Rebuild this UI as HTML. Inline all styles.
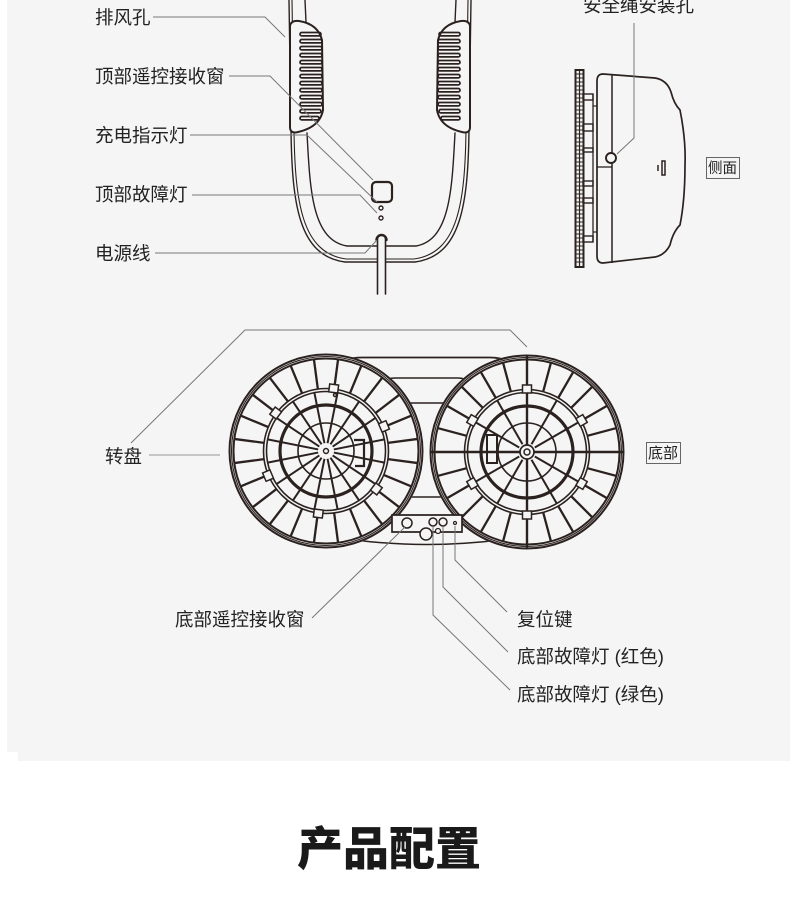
<!DOCTYPE html>
<html><head><meta charset="utf-8"><style>
html,body{margin:0;padding:0;background:#fff;}
svg{display:block;}
text{font-family:"Liberation Sans","Noto Sans CJK SC",sans-serif;fill:#222;}
</style></head><body>
<svg width="790" height="900" viewBox="0 0 790 900" xmlns="http://www.w3.org/2000/svg">
<rect x="7" y="0" width="783" height="752" fill="#f5f5f5"/>
<rect x="18" y="752" width="772" height="9" fill="#f5f5f5"/>

<!-- ===== TOP FRONT VIEW ===== -->
<g fill="none" stroke="#2b2220" stroke-linecap="round">
  <path d="M289,0 L291,130 C292,205 299,256 345,262 L415,262 C461,256 468,205 469,130 L471,0" stroke-width="1.4"/>
  <path d="M292,0 L294,130 C295,203 302,253 346,259 L414,259 C458,253 465,203 466,130 L468,0" stroke-width="1.1"/>
  <path d="M305,0 L306,22" stroke-width="1.4"/>
  <path d="M456,0 L455,22" stroke-width="1.4"/>
  <path d="M307,133 C310,190 312,240 347,246 L416,246 C450,240 452,190 455,133" stroke-width="1.4"/>
  <path d="M290,26 Q291,20 299,21 Q318,24 322,40 L323,110 Q320,127 298,132 Q290,134 290,127 Z" stroke-width="2" fill="#f5f5f5"/>
  <g stroke-width="1.7">
    <rect x="300" y="32.5" width="21" height="3.4" rx="1.7"/>
    <rect x="300" y="39.5" width="22" height="3.4" rx="1.7"/>
    <rect x="300" y="46.5" width="22" height="3.4" rx="1.7"/>
    <rect x="300" y="53.5" width="22" height="3.4" rx="1.7"/>
    <rect x="300" y="60.5" width="22" height="3.4" rx="1.7"/>
    <rect x="300" y="67.5" width="22" height="3.4" rx="1.7"/>
    <rect x="300" y="74.5" width="22" height="3.4" rx="1.7"/>
    <rect x="300" y="81.5" width="22" height="3.4" rx="1.7"/>
    <rect x="300" y="88.5" width="22" height="3.4" rx="1.7"/>
    <rect x="300" y="95.5" width="22" height="3.4" rx="1.7"/>
    <rect x="300" y="102.5" width="22" height="3.4" rx="1.7"/>
    <rect x="300" y="109.5" width="21" height="3.4" rx="1.7"/>
    <rect x="300" y="116.5" width="19" height="3.4" rx="1.7"/>
  </g>
  <g transform="translate(760 0) scale(-1 1)">
    <path d="M290,26 Q291,20 299,21 Q318,24 322,40 L323,110 Q320,127 298,132 Q290,134 290,127 Z" stroke-width="2" fill="#f5f5f5"/>
    <g stroke-width="1.7">
      <rect x="300" y="32.5" width="21" height="3.4" rx="1.7"/>
      <rect x="300" y="39.5" width="22" height="3.4" rx="1.7"/>
      <rect x="300" y="46.5" width="22" height="3.4" rx="1.7"/>
      <rect x="300" y="53.5" width="22" height="3.4" rx="1.7"/>
      <rect x="300" y="60.5" width="22" height="3.4" rx="1.7"/>
      <rect x="300" y="67.5" width="22" height="3.4" rx="1.7"/>
      <rect x="300" y="74.5" width="22" height="3.4" rx="1.7"/>
      <rect x="300" y="81.5" width="22" height="3.4" rx="1.7"/>
      <rect x="300" y="88.5" width="22" height="3.4" rx="1.7"/>
      <rect x="300" y="95.5" width="22" height="3.4" rx="1.7"/>
      <rect x="300" y="102.5" width="22" height="3.4" rx="1.7"/>
      <rect x="300" y="109.5" width="21" height="3.4" rx="1.7"/>
      <rect x="300" y="116.5" width="19" height="3.4" rx="1.7"/>
    </g>
  </g>
  <rect x="372" y="182" width="20" height="20" rx="4" stroke-width="2.2"/>
  <circle cx="381" cy="208" r="2" stroke-width="1.4"/>
  <circle cx="381" cy="218" r="2" stroke-width="1.4"/>
  <path d="M377.5,294 L377.5,239 A4,4 0 0 1 385.5,239 L385.5,294" stroke-width="1.6" fill="#f5f5f5"/>
  <path d="M376.5,240 A5,5 0 0 1 386.5,240" stroke-width="2.4"/>
</g>
<g fill="none" stroke="#777" stroke-width="1">
  <path d="M153,17 L265,17 L285,37"/>
  <path d="M229,76 L270,76 L373,180"/>
  <path d="M190,135 L307,135 L377,202"/>
  <path d="M192,195 L360,195 L377,213"/>
  <path d="M155,253 L365,253 L377,240"/>
</g>
<g font-size="18.5">
  <text x="95" y="24">排风孔</text>
  <text x="95" y="83">顶部遥控接收窗</text>
  <text x="95" y="142">充电指示灯</text>
  <text x="95" y="201">顶部故障灯</text>
  <text x="95" y="260">电源线</text>
  <text x="583" y="12">安全绳安装孔</text>
</g>

<!-- ===== SIDE VIEW ===== -->
<g fill="none" stroke="#2b2220">
  <rect x="575.5" y="70" width="8" height="197" stroke-width="2"/>
  <line x1="579.5" y1="71" x2="579.5" y2="266" stroke-width="1.2"/>
  <path d="M575,74 h8 M575,78 h8 M575,82 h8 M575,86 h8 M575,90 h8 M575,94 h8 M575,98 h8 M575,102 h8 M575,106 h8 M575,110 h8 M575,114 h8 M575,118 h8 M575,122 h8 M575,126 h8 M575,130 h8 M575,134 h8 M575,138 h8 M575,142 h8 M575,146 h8 M575,150 h8 M575,154 h8 M575,158 h8 M575,162 h8 M575,166 h8 M575,170 h8 M575,174 h8 M575,178 h8 M575,182 h8 M575,186 h8 M575,190 h8 M575,194 h8 M575,198 h8 M575,202 h8 M575,206 h8 M575,210 h8 M575,214 h8 M575,218 h8 M575,222 h8 M575,226 h8 M575,230 h8 M575,234 h8 M575,238 h8 M575,242 h8 M575,246 h8 M575,250 h8 M575,254 h8 M575,258 h8 M575,262 h8" stroke-width="1.1"/>
  <line x1="593" y1="94" x2="593" y2="242" stroke-width="1.3"/>
  <rect x="583" y="94" width="10" height="6" stroke-width="1.4"/>
  <rect x="583" y="124" width="10" height="7" stroke-width="1.4"/>
  <rect x="583" y="148" width="10" height="4" stroke-width="1.4"/>
  <rect x="583" y="181" width="10" height="5" stroke-width="1.4"/>
  <rect x="583" y="198" width="10" height="5" stroke-width="1.4"/>
  <rect x="583" y="236" width="10" height="6" stroke-width="1.4"/>
  <line x1="593" y1="106" x2="597" y2="106" stroke-width="1.2"/>
  <line x1="593" y1="232" x2="597" y2="232" stroke-width="1.2"/>
  <path d="M603,74 L655,78 Q667,80 671,92 Q674,104 680,110 Q686,140 685,165 Q685,200 680,225 Q673,232 670,245 Q665,255 655,257 L603,263 Q597,263 597,256 L597,81 Q597,74 603,74 Z" stroke-width="1.7"/>
  <line x1="612" y1="74" x2="612" y2="263" stroke-width="1.5"/>
  <line x1="597" y1="167" x2="612" y2="167" stroke-width="1.3"/>
  <circle cx="611" cy="158" r="5" stroke-width="1.9" fill="#f5f5f5"/>
  <rect x="662" y="161" width="3" height="14" stroke-width="1.5"/>
  <line x1="658" y1="165" x2="658" y2="171" stroke-width="1.5"/>
</g>
<path d="M634,23 L634,138 L617,154" fill="none" stroke="#777" stroke-width="1"/>
<rect x="706.5" y="157.5" width="33" height="21" fill="none" stroke="#666" stroke-width="1"/>
<text x="708" y="173" font-size="14.5">侧面</text>

<!-- ===== BOTTOM VIEW ===== -->
<g fill="none" stroke="#2b2220" stroke-width="1.7">
  <path d="M340,365 Q345,357.5 362,357.5 L490,357.5 Q505,357.5 512,365"/>
  <path d="M380,383 Q385,378 395,378 L458,378 Q466,378 470,383" stroke-width="1.5"/>
  <line x1="395" y1="403" x2="460" y2="403" stroke-width="1.5"/>
  <line x1="395" y1="497" x2="460" y2="497" stroke-width="1.5"/>
  <path d="M355,540 Q426,549 500,540" stroke-width="1.5"/>
</g>

<g transform="translate(326 451)" fill="none" stroke="#2b2220">
  <circle r="97.5" fill="#f5f5f5" stroke="none"/>
  <circle r="96.5" stroke-width="2"/>
  <circle r="94.5" stroke-width="1.1"/>
  <circle r="92.5" stroke-width="2"/>
  <circle r="62.5" stroke-width="1.6"/>
  <circle r="59.5" stroke-width="1.6"/>
  <g stroke-width="2.3">
    <line x1="62.5" x2="92.5" transform="rotate(7.5)"/>
    <line x1="62.5" x2="92.5" transform="rotate(22.5)"/>
    <line x1="62.5" x2="92.5" transform="rotate(37.5)"/>
    <line x1="62.5" x2="92.5" transform="rotate(52.5)"/>
    <line x1="62.5" x2="92.5" transform="rotate(67.5)"/>
    <line x1="62.5" x2="92.5" transform="rotate(82.5)"/>
    <line x1="62.5" x2="92.5" transform="rotate(97.5)"/>
    <line x1="62.5" x2="92.5" transform="rotate(112.5)"/>
    <line x1="62.5" x2="92.5" transform="rotate(127.5)"/>
    <line x1="62.5" x2="92.5" transform="rotate(142.5)"/>
    <line x1="62.5" x2="92.5" transform="rotate(157.5)"/>
    <line x1="62.5" x2="92.5" transform="rotate(172.5)"/>
    <line x1="62.5" x2="92.5" transform="rotate(187.5)"/>
    <line x1="62.5" x2="92.5" transform="rotate(202.5)"/>
    <line x1="62.5" x2="92.5" transform="rotate(217.5)"/>
    <line x1="62.5" x2="92.5" transform="rotate(232.5)"/>
    <line x1="62.5" x2="92.5" transform="rotate(247.5)"/>
    <line x1="62.5" x2="92.5" transform="rotate(262.5)"/>
    <line x1="62.5" x2="92.5" transform="rotate(277.5)"/>
    <line x1="62.5" x2="92.5" transform="rotate(292.5)"/>
    <line x1="62.5" x2="92.5" transform="rotate(307.5)"/>
    <line x1="62.5" x2="92.5" transform="rotate(322.5)"/>
    <line x1="62.5" x2="92.5" transform="rotate(337.5)"/>
    <line x1="62.5" x2="92.5" transform="rotate(352.5)"/>
  </g>
  <g stroke-width="2">
    <line x1="8" x2="59.5" transform="rotate(11.25)"/>
    <line x1="8" x2="59.5" transform="rotate(33.75)"/>
    <line x1="8" x2="59.5" transform="rotate(56.25)"/>
    <line x1="8" x2="59.5" transform="rotate(78.75)"/>
    <line x1="8" x2="59.5" transform="rotate(101.25)"/>
    <line x1="8" x2="59.5" transform="rotate(123.75)"/>
    <line x1="8" x2="59.5" transform="rotate(146.25)"/>
    <line x1="8" x2="59.5" transform="rotate(168.75)"/>
    <line x1="8" x2="59.5" transform="rotate(191.25)"/>
    <line x1="8" x2="59.5" transform="rotate(213.75)"/>
    <line x1="8" x2="59.5" transform="rotate(236.25)"/>
    <line x1="8" x2="59.5" transform="rotate(258.75)"/>
    <line x1="8" x2="59.5" transform="rotate(281.25)"/>
    <line x1="8" x2="59.5" transform="rotate(303.75)"/>
    <line x1="8" x2="59.5" transform="rotate(326.25)"/>
    <line x1="8" x2="59.5" transform="rotate(348.75)"/>
  </g>
  <circle r="46" stroke-width="3.2"/>
  <circle r="28" stroke-width="1.6"/>
  <circle r="2.5" stroke-width="1.4"/>
  <g stroke-width="1.5" fill="#f5f5f5">
    <rect x="59" y="-4.5" width="8" height="9" transform="rotate(-83)"/>
    <rect x="59" y="-4.5" width="8" height="9" transform="rotate(-143)"/>
    <rect x="59" y="-4.5" width="8" height="9" transform="rotate(-23)"/>
    <rect x="59" y="-4.5" width="8" height="9" transform="rotate(157)"/>
    <rect x="59" y="-4.5" width="8" height="9" transform="rotate(37)"/>
    <rect x="59" y="-4.5" width="8" height="9" transform="rotate(97)"/>
  </g>
  <path d="M28,-11 L38,-11 L38,15 L29,15" stroke-width="2.2"/>
  <circle cx="9" cy="-56" r="1.5" stroke-width="1.5"/>
</g>

<g transform="translate(527 452)" fill="none" stroke="#2b2220">
  <circle r="97.5" fill="#f5f5f5" stroke="none"/>
  <circle r="96.5" stroke-width="2"/>
  <circle r="94.5" stroke-width="1.1"/>
  <circle r="92.5" stroke-width="2"/>
  <circle r="62.5" stroke-width="1.6"/>
  <circle r="59.5" stroke-width="1.6"/>
  <g stroke-width="2.3">
    <line x1="62.5" x2="92.5" transform="rotate(15)"/>
    <line x1="62.5" x2="92.5" transform="rotate(30)"/>
    <line x1="62.5" x2="92.5" transform="rotate(45)"/>
    <line x1="62.5" x2="92.5" transform="rotate(60)"/>
    <line x1="62.5" x2="92.5" transform="rotate(75)"/>
    <line x1="62.5" x2="92.5" transform="rotate(105)"/>
    <line x1="62.5" x2="92.5" transform="rotate(120)"/>
    <line x1="62.5" x2="92.5" transform="rotate(135)"/>
    <line x1="62.5" x2="92.5" transform="rotate(150)"/>
    <line x1="62.5" x2="92.5" transform="rotate(165)"/>
    <line x1="62.5" x2="92.5" transform="rotate(195)"/>
    <line x1="62.5" x2="92.5" transform="rotate(210)"/>
    <line x1="62.5" x2="92.5" transform="rotate(225)"/>
    <line x1="62.5" x2="92.5" transform="rotate(240)"/>
    <line x1="62.5" x2="92.5" transform="rotate(255)"/>
    <line x1="62.5" x2="92.5" transform="rotate(285)"/>
    <line x1="62.5" x2="92.5" transform="rotate(300)"/>
    <line x1="62.5" x2="92.5" transform="rotate(315)"/>
    <line x1="62.5" x2="92.5" transform="rotate(330)"/>
    <line x1="62.5" x2="92.5" transform="rotate(345)"/>
  </g>
  <g stroke-width="2.4">
    <line x1="-96" y1="0" x2="-7" y2="0"/>
    <line x1="7" y1="0" x2="96" y2="0"/>
    <line x1="0" y1="-96" x2="0" y2="-7"/>
    <line x1="0" y1="7" x2="0" y2="96"/>
  </g>
  <g stroke-width="2">
    <line x1="9" x2="59.5" transform="rotate(30)"/>
    <line x1="9" x2="59.5" transform="rotate(60)"/>
    <line x1="9" x2="59.5" transform="rotate(120)"/>
    <line x1="9" x2="59.5" transform="rotate(150)"/>
    <line x1="9" x2="59.5" transform="rotate(210)"/>
    <line x1="9" x2="59.5" transform="rotate(240)"/>
    <line x1="9" x2="59.5" transform="rotate(300)"/>
    <line x1="9" x2="59.5" transform="rotate(330)"/>
  </g>
  <circle r="46" stroke-width="3.2"/>
  <circle r="29" stroke-width="1.6"/>
  <circle r="7" stroke-width="1.7"/>
  <circle r="3" stroke-width="1.5"/>
  <g stroke-width="1.5" fill="#f5f5f5">
    <rect x="59" y="-4.5" width="8" height="9" transform="rotate(-90)"/>
    <rect x="59" y="-4.5" width="8" height="9" transform="rotate(-150)"/>
    <rect x="59" y="-4.5" width="8" height="9" transform="rotate(-30)"/>
    <rect x="59" y="-4.5" width="8" height="9" transform="rotate(30)"/>
    <rect x="59" y="-4.5" width="8" height="9" transform="rotate(90)"/>
    <rect x="59" y="-4.5" width="8" height="9" transform="rotate(150)"/>
  </g>
  <rect x="-40" y="-17" width="10" height="28" stroke-width="2"/>
</g>

<g fill="#f5f5f5" stroke="#2b2220">
  <path d="M392,515 L462,515 L462,532 L392,532 Z" stroke-width="1.7"/>
  <circle cx="407" cy="523" r="5" stroke-width="1.5"/>
  <circle cx="433" cy="522" r="4" stroke-width="1.5"/>
  <circle cx="443" cy="522" r="4" stroke-width="1.5"/>
  <circle cx="455" cy="523" r="1.5" stroke-width="1.2"/>
  <circle cx="426" cy="534" r="6" stroke-width="1.5"/>
  <circle cx="438" cy="531" r="2.5" stroke-width="1.2"/>
</g>

<g fill="none" stroke="#777" stroke-width="1">
  <path d="M131,443 L245,330 L510,330 L527,347"/>
  <path d="M312,618 L405,527"/>
  <path d="M507,612 L455,560 L455,526"/>
  <path d="M508,652 L443,587 L443,527"/>
  <path d="M510,690 L433,615 L433,527"/>
</g>
<line x1="149" y1="455" x2="220" y2="455" stroke="#aaa" stroke-width="1.2"/>

<g font-size="18.5">
  <text x="105" y="463">转盘</text>
  <text x="175" y="626">底部遥控接收窗</text>
  <text x="517" y="626">复位键</text>
  <text x="517" y="663">底部故障灯 (红色)</text>
  <text x="517" y="701">底部故障灯 (绿色)</text>
</g>
<rect x="646.5" y="442.5" width="34" height="21" fill="none" stroke="#666" stroke-width="1"/>
<text x="648" y="458" font-size="15">底部</text>

<text x="389" y="865" font-size="46" font-weight="900" text-anchor="middle" style="fill:#1a1a1a">产品配置</text>
</svg>
</body></html>
